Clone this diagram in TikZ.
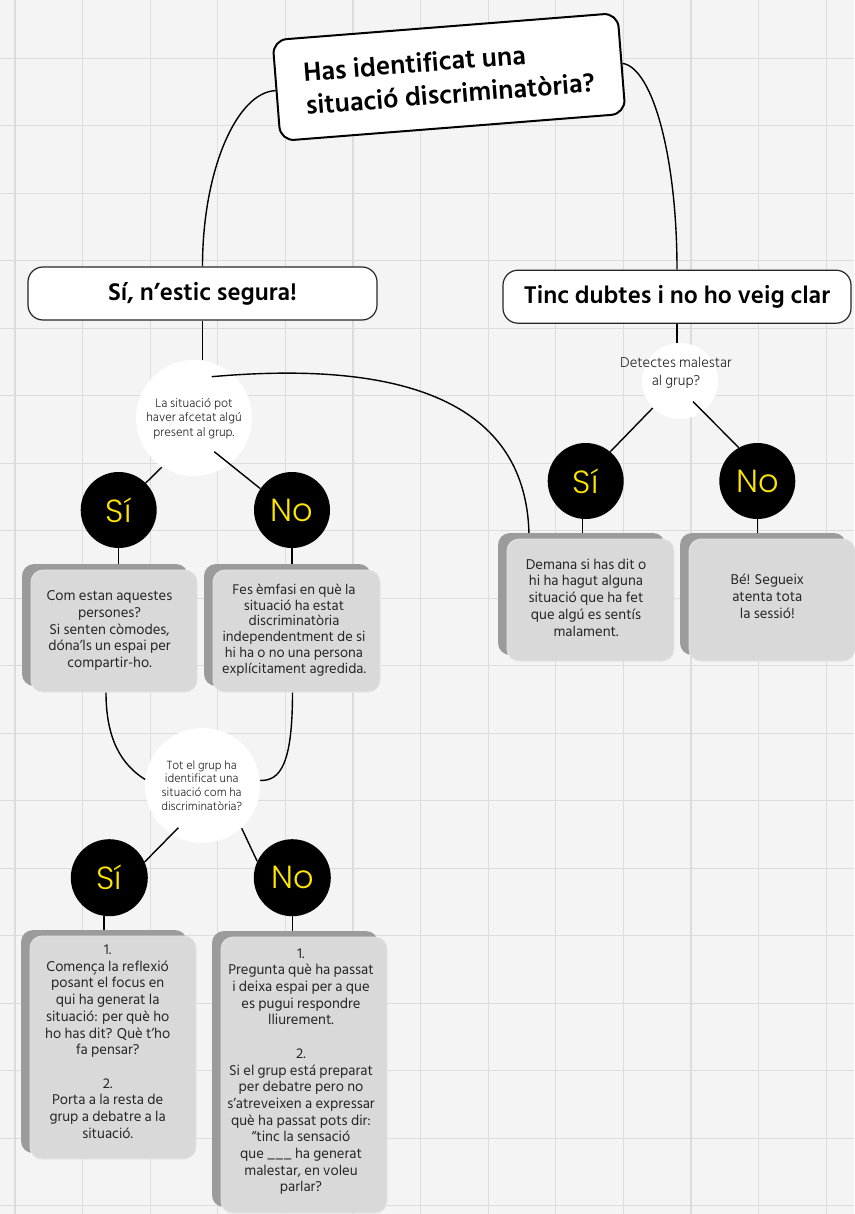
\documentclass[tikz,border=0pt]{standalone}
\usepackage{fontspec}
\IfFontExistsTF{Hind Siliguri}{%
  \setmainfont{Hind Siliguri}%
  \IfFontExistsTF{Hind Siliguri Light}{\newfontfamily\lightf{Hind Siliguri Light}}{\newfontfamily\lightf{Hind Siliguri}}%
}{%
  \setmainfont{Lato}\newfontfamily\lightf{Lato}%
}
\IfFontExistsTF{Poppins Light}{\newfontfamily\yesnof{Poppins Light}}{\newfontfamily\yesnof{Poppins}}
\usetikzlibrary{shadows,calc}
\definecolor{bgc}{HTML}{F4F4F4}
\definecolor{gridc}{HTML}{DCDCDC}
\definecolor{boxc}{HTML}{D9D9D9}
\definecolor{boxedge}{HTML}{E4E4E4}
\definecolor{shadc}{HTML}{9B9B9B}
\definecolor{txtc}{HTML}{262626}
\definecolor{yelc}{HTML}{FFE600}
\pgfdeclarelayer{gridl}
\pgfdeclarelayer{wcl}
\pgfdeclarelayer{connl}
\pgfsetlayers{gridl,wcl,connl,main}
\tikzset{
  gridline/.style={draw=gridc, line width=1.2pt},
  conn/.style={draw=black, line width=1.4pt},
  titlebox/.style={draw=black, line width=2pt, fill=white, rounded corners=14pt,
    minimum width=346pt, minimum height=101pt, inner sep=0pt, align=left,
    font=\bfseries\fontsize{27}{33}\selectfont, text=black},
  optbox/.style={draw=black!85, line width=1.2pt, fill=white, rounded corners=15pt,
    minimum height=53pt, inner sep=0pt, font=\bfseries\fontsize{24.8}{28}\selectfont, text=black},
  wcirc/.style={circle, fill=white, inner sep=0pt},
  ctext/.style={align=center, text=txtc, inner sep=0pt},
  bcirc/.style={circle, fill=black, minimum size=76pt, inner sep=0pt, text=yelc,
    font=\yesnof\fontsize{32}{32}\selectfont},
  gbox/.style={rounded corners=12pt, fill=boxc, draw=boxedge, line width=0.8pt,
    inner sep=0pt, general shadow={fill=shadc, shadow xshift=-9pt, shadow yshift=6pt}},
  btext/.style={align=center, text=txtc, inner sep=0pt, font=\fontsize{14.6}{16.7}\selectfont},
}
\begin{document}
\begin{tikzpicture}[x=1pt, y=-1pt]
\useasboundingbox (0,0) rectangle (854,1214);
\begin{pgfonlayer}{gridl}
  \fill[bgc] (0,0) rectangle (854,1214);
  \foreach \i in {0,...,12} \draw[gridline] ({15+67.6*\i},0) -- ({15+67.6*\i},1214);
  \foreach \j in {0,...,17} \draw[gridline] (0,{58.3+67.5*\j}) -- (854,{58.3+67.5*\j});
\end{pgfonlayer}

% white question circles
\begin{pgfonlayer}{wcl}
  \node[wcirc, minimum size=116pt] (c1) at (194,418) {};
  \node[wcirc, minimum size=76pt] (c2) at (680,381) {};
  \node[wcirc, minimum size=115pt] (c3) at (202.5,785.5) {};
\end{pgfonlayer}

% title and first options
\node[titlebox, rotate=4.5] (title) at (449,77) {Has identificat una\\situació discriminatòria?};
\node[optbox, minimum width=349pt] (sibox) at (202.5,293.5) {Sí, n’estic segura!};
\node[optbox, minimum width=348pt] (tinc) at (677,296.7) {Tinc dubtes i no ho veig clar};

% circle texts
\node[ctext, font=\lightf\fontsize{12.6}{14.5}\selectfont] (c1t) at (194,418.6) {La situació pot\\haver afcetat algú\\present al grup.};
\node[ctext, font=\lightf\fontsize{14.6}{18}\selectfont] (c2t) at (676,373) {Detectes malestar\\al grup?};
\node[ctext, font=\lightf\fontsize{12.2}{13.7}\selectfont] (c3t) at (201.7,785.5) {Tot el grup ha\\identificat una\\situació com ha\\discriminatòria?};

% yes / no circles
\node[bcirc] (s1) at (118.7,510) {Sí};
\node[bcirc] (n1) at (292,510) {No};
\node[bcirc] (s2) at (585.7,481) {Sí};
\node[bcirc] (n2) at (757.3,481) {No};
\node[bcirc, minimum size=77pt] (s3) at (109.3,877.7) {Sí};
\node[bcirc, minimum size=77pt] (n3) at (292.3,877.7) {No};

% grey answer boxes
\node[gbox, minimum width=166pt, minimum height=122pt] (b1) at (114,631) {};
\node[gbox, minimum width=167pt, minimum height=122pt] (b2) at (296.5,631) {};
\node[gbox, minimum width=167pt, minimum height=122pt] (b3) at (590.5,600) {};
\node[gbox, minimum width=166pt, minimum height=122pt] (b4) at (772,600) {};
\node[gbox, minimum width=166pt, minimum height=223pt] (b5) at (113,1047.5) {};
\node[gbox, minimum width=166pt, minimum height=276pt] (b6) at (304,1075) {};

\node[btext] (b1t) at (109.5,630.5) {Com estan aquestes\\persones?\\Si senten còmodes,\\dóna’ls un espai per\\compartir-ho.};
\node[btext, font=\fontsize{14.4}{15.8}\selectfont] (b2t) at (294,630) {Fes èmfasi en què la\\situació ha estat\\discriminatòria\\independentment de si\\hi ha o no una persona\\explícitament agredida.};
\node[btext] (b3t) at (586,597.5) {Demana si has dit o\\hi ha hagut alguna\\situació que ha fet\\que algú es sentís\\malament.};
\node[btext] (b4t) at (767.3,596.5) {Bé! Segueix\\atenta tota\\la sessió!};
\node[btext] (b5t) at (107.7,1041.7) {1.\\Comença la reflexió\\posant el focus en\\qui ha generat la\\situació: per què ho\\ho has dit? Què t’ho\\fa pensar?\\[16.7pt]2.\\Porta a la resta de\\grup a debatre a la\\situació.};
\node[btext] (b6t) at (301,1071.7) {1.\\Pregunta què ha passat\\i deixa espai per a que\\es pugui respondre\\lliurement.\\[16.7pt]2.\\Si el grup está preparat\\per debatre pero no\\s’atreveixen a expressar\\què ha passat pots dir:\\“tinc la sensació\\que \_\_\_ ha generat\\malestar, en voleu\\parlar?};

% free connector ends
\coordinate (c1b) at (211.7,376.7);
\coordinate (c1s) at (161.7,467.3);
\coordinate (c1n) at (214.3,451.7);
\coordinate (c2s) at (652.7,408);
\coordinate (c2n) at (693,401.7);
\coordinate (c3s) at (178.3,827.7);
\coordinate (c3n) at (241.7,828.3);
\coordinate (b3end) at ($(b3.north)+(-61.5,0)$);
\coordinate (b1b) at ($(b1.south)+(-8,0)$);
\coordinate (b2b) at ($(b2.south)+(-4,0)$);

\begin{pgfonlayer}{connl}
  \draw[conn] (title.west) .. controls (237,92) and (202.5,170) .. (sibox.north);
  \draw[conn] (title.east) .. controls (653,68) and (677,158) .. (tinc.north);
  \draw[conn] (sibox.south) -- (sibox.south |- c1.north);
  \draw[conn] (c1b) .. controls (400,360) and (529,400) .. (b3end);
  \draw[conn] (c1s) -- (s1.45);
  \draw[conn] (c1n) -- (n1.146);
  \draw[conn] (tinc.south) -- (tinc.south |- c2.north);
  \draw[conn] (c2s) -- (s2.50);
  \draw[conn] (c2n) -- (n2.119);
  \draw[conn] (s1.south) -- (s1.south |- b1.north);
  \draw[conn] (n1.south) -- (n1.south |- b2.north);
  \draw[conn] (s2.-95) -- (s2.-95 |- b3.north);
  \draw[conn] (n2.south) -- (n2.south |- b4.north);
  \draw[conn] (b1b) .. controls (106,740) and (122,765) .. (c3.174);
  \draw[conn] (b2b) .. controls (292.5,765) and (280,781) .. (c3.5);
  \draw[conn] (c3s) -- (s3.24);
  \draw[conn] (c3n) -- (n3.155);
  \draw[conn] (s3.-98) -- (s3.-98 |- b5.north);
  \draw[conn] (n3.south) -- (n3.south |- b6.north);
\end{pgfonlayer}
\end{tikzpicture}
\end{document}
